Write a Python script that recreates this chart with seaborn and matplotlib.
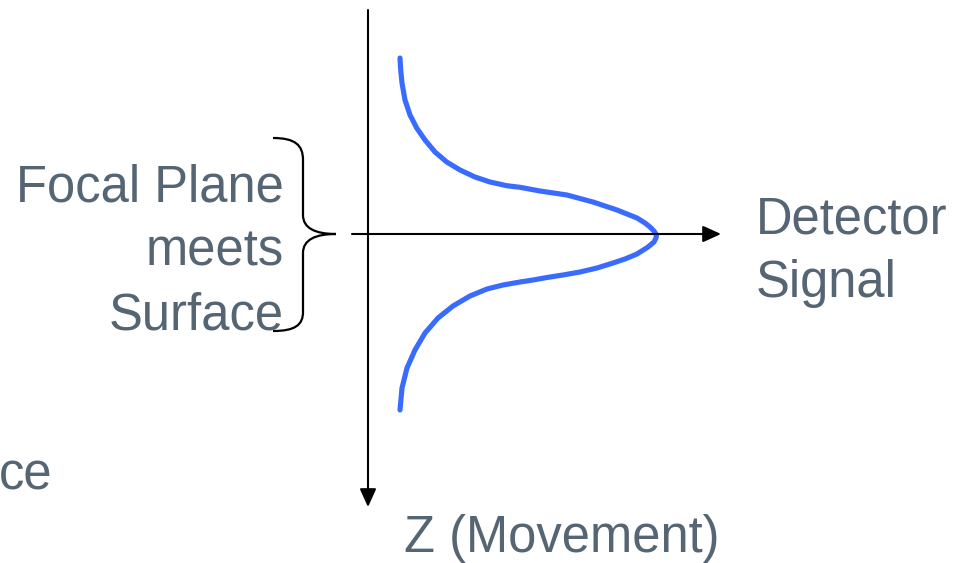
import matplotlib
matplotlib.use('Agg')
from matplotlib import pyplot as plt
from matplotlib.path import Path
from matplotlib.patches import PathPatch
import seaborn as sns
import pandas as pd

#detector signal (x) against z position (y) in pixel units
signal_x = [400, 400.7, 402, 405, 410, 416.7, 425, 435, 446.7, 460, 475, 490, 506.7, 520,
            540, 567, 593, 617, 627, 637, 645, 650, 654, 656.5,
            656, 654, 648, 637, 625, 613, 597, 580, 563, 547, 533,
            520, 503, 487, 470, 453, 438, 425, 415, 407, 402, 400]
z_pos = [58, 70, 83, 100, 115, 128, 140, 152, 162, 170, 177, 182, 185.7, 187.3,
         191, 195, 202, 210, 214, 218, 223, 227, 231, 235,
         238, 242, 247, 254, 259, 263, 268, 272, 275, 277.5, 280,
         282, 285, 289, 296, 306, 318, 333, 350, 368, 388, 410]

focal_lines = ['Focal Plane', 'meets', 'Surface']
signal_lines = ['Detector', 'Signal']
z_label = 'Z (Movement)'

text_col = '#566573'
curve_col = '#3a6bff'

sns.set_style('white')
plt.rcParams['font.family'] = ['Liberation Sans', 'DejaVu Sans']

fig = plt.figure(figsize=(9.8, 5.63), dpi=100)
ax = fig.add_axes([0, 0, 1, 1])

#axes arrows
ax.annotate('', xy=(721, 234), xytext=(352, 234),
            arrowprops=dict(arrowstyle='-|>,head_length=1.1,head_width=0.5', color='black', lw=1.5, shrinkA=0, shrinkB=0))
ax.annotate('', xy=(368, 507), xytext=(368, 10),
            arrowprops=dict(arrowstyle='-|>,head_length=1.1,head_width=0.5', color='black', lw=1.5, shrinkA=0, shrinkB=0))

#signal curve
curve_df = pd.DataFrame({'signal': signal_x, 'z': z_pos})
sns.lineplot(data=curve_df, x='signal', y='z', sort=False, estimator=None,
             color=curve_col, lw=3.7, solid_joinstyle='round', ax=ax)
ax.set_xlim(0, 980)
ax.set_ylim(563, 0)
ax.axis('off')

#curly brace
verts = [(273, 138), (295, 138), (303, 145), (303, 160),
         (303, 215),
         (303, 228), (315, 234), (336, 234),
         (315, 234), (303, 240), (303, 253),
         (303, 312),
         (303, 325), (295, 331), (273, 331)]
codes = [Path.MOVETO, Path.CURVE4, Path.CURVE4, Path.CURVE4,
         Path.LINETO,
         Path.CURVE4, Path.CURVE4, Path.CURVE4,
         Path.CURVE4, Path.CURVE4, Path.CURVE4,
         Path.LINETO,
         Path.CURVE4, Path.CURVE4, Path.CURVE4]
ax.add_patch(PathPatch(Path(verts, codes), fill=False, lw=1.6, color='black'))

#labels
fs = 36.5
for i, line in enumerate(focal_lines):
    ax.text(284, 201 + i * 64.5, line, ha='right', va='baseline', fontsize=fs, color=text_col)
for i, line in enumerate(signal_lines):
    ax.text(756, 233 + i * 64.5, line, ha='left', va='baseline', fontsize=fs, color=text_col)
ax.text(404, 552, z_label, ha='left', va='baseline', fontsize=fs, color=text_col)
ax.text(-1, 489, 'ce', ha='left', va='baseline', fontsize=fs, color=text_col)

fig.savefig('out.png', dpi=100)
